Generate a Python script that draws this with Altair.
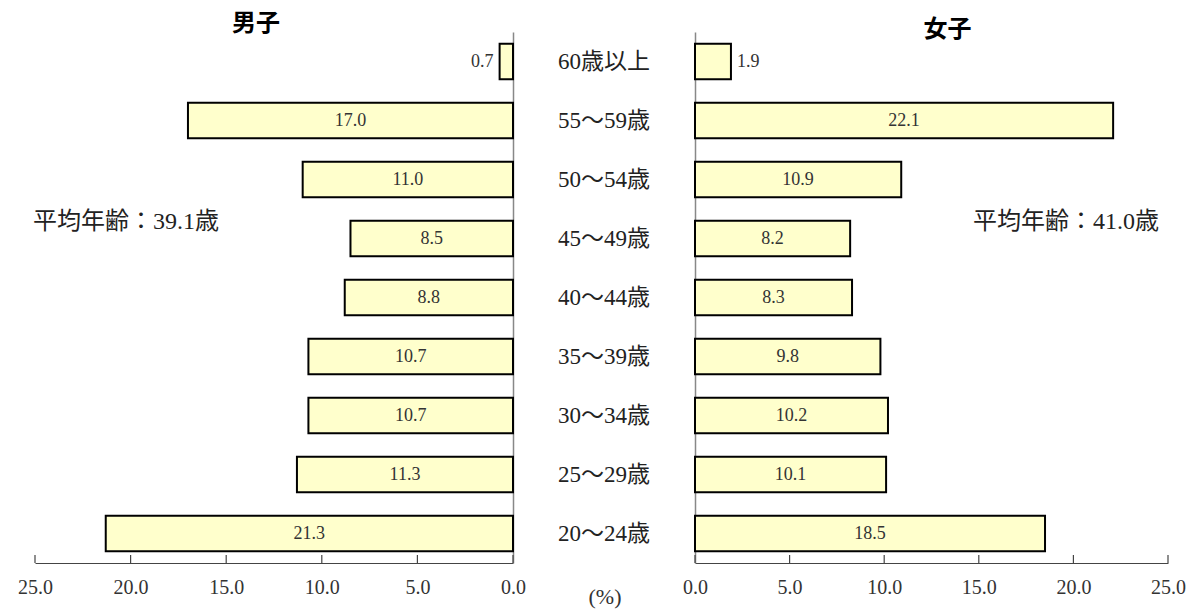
import altair as alt
import pandas as pd

ages = ["60歳以上", "55～59歳", "50～54歳", "45～49歳", "40～44歳",
        "35～39歳", "30～34歳", "25～29歳", "20～24歳"]
male = [0.7, 17.0, 11.0, 8.5, 8.8, 10.7, 10.7, 11.3, 21.3]
female = [1.9, 22.1, 10.9, 8.2, 8.3, 9.8, 10.2, 10.1, 18.5]
tick_values = [0, 5, 10, 15, 20, 25]
male_note = "平均年齢：39.1歳"
female_note = "平均年齢：41.0歳"

SERIF = "Liberation Serif, Noto Sans CJK JP"
SANS = "Noto Sans CJK JP"
H = 531

df_m = pd.DataFrame({"age": ages, "v": male})
df_f = pd.DataFrame({"age": ages, "v": female})
df_t = pd.DataFrame({"t": tick_values})

yscale = alt.Scale(domain=ages, paddingInner=0.4, paddingOuter=0.2)


def panel(df, reverse, note, note_x, title, title_dx, title_offset):
    xscale = alt.Scale(domain=[0, 25], reverse=reverse, nice=False, zero=True)
    base = alt.Chart(df)
    bars = base.mark_bar(fill="#FFFFCC", stroke="black", strokeWidth=2).encode(
        y=alt.Y("age:N", sort=ages, scale=yscale,
                axis=alt.Axis(orient="right" if reverse else "left", labels=False,
                              ticks=False, title=None, grid=False,
                              domainColor="#888888", domainWidth=1.5)),
        x=alt.X("v:Q", scale=xscale,
                axis=alt.Axis(values=tick_values, format=".1f", title=None,
                              ticks=False, grid=False, labelPadding=14,
                              labelFont=SERIF, labelFontSize=20,
                              labelColor="#333333", domainColor="#444444",
                              domainWidth=1.2, labelFlush=False)),
    )
    inside = base.transform_filter("datum.v >= 3").transform_calculate(
        mid="datum.v / 2").mark_text(
        font=SERIF, fontSize=18, color="#333333", baseline="middle").encode(
        x=alt.X("mid:Q", scale=xscale), y=alt.Y("age:N", sort=ages, scale=yscale),
        text=alt.Text("v:Q", format=".1f"))
    outside = base.transform_filter("datum.v < 3").mark_text(
        font=SERIF, fontSize=18, color="#333333", baseline="middle",
        align="right" if reverse else "left", dx=-6 if reverse else 6).encode(
        x=alt.X("v:Q", scale=xscale), y=alt.Y("age:N", sort=ages, scale=yscale),
        text=alt.Text("v:Q", format=".1f"))
    ticks = alt.Chart(df_t).mark_rule(color="#444444", strokeWidth=1.2).encode(
        x=alt.X("t:Q", scale=xscale), y=alt.value(H - 8), y2=alt.value(H))
    ann = alt.Chart(pd.DataFrame({"t": [note]})).mark_text(
        font=SERIF, fontSize=24, color="#222222", align="left",
        baseline="middle").encode(text="t:N", x=alt.value(note_x), y=alt.value(190))
    return alt.layer(bars, inside, outside, ticks, ann).properties(
        width=478 if reverse else 473, height=H,
        title=alt.TitleParams(title, font=SANS, fontSize=24, fontWeight="bold",
                              color="black", dx=title_dx, offset=title_offset,
                              anchor="middle"))


left = panel(df_m, True, male_note, -2, "男子", -18, -4)
right = panel(df_f, False, female_note, 278, "女子", 16, -10)

mid_df = pd.DataFrame({"age": ages})
mid_labels = alt.Chart(mid_df).mark_text(
    font=SERIF, fontSize=23, color="#222222", baseline="middle").encode(
    y=alt.Y("age:N", sort=ages, scale=yscale, axis=None),
    x=alt.value(91), text="age:N")
pct = alt.Chart(pd.DataFrame({"t": ["(%)"]})).mark_text(
    font=SERIF, fontSize=22, color="#333333", baseline="middle").encode(
    text="t:N", x=alt.value(92), y=alt.value(H + 34))
middle = alt.layer(mid_labels, pct).properties(width=182, height=H)

chart = alt.hconcat(left, middle, right, spacing=0, bounds="flush").properties(
    padding={"left": 17, "top": 12, "right": 5, "bottom": 5},
    background="white",
).configure_view(strokeWidth=0, stroke="transparent")

chart.save("out.html", embed_options={"renderer": "svg", "actions": False})
